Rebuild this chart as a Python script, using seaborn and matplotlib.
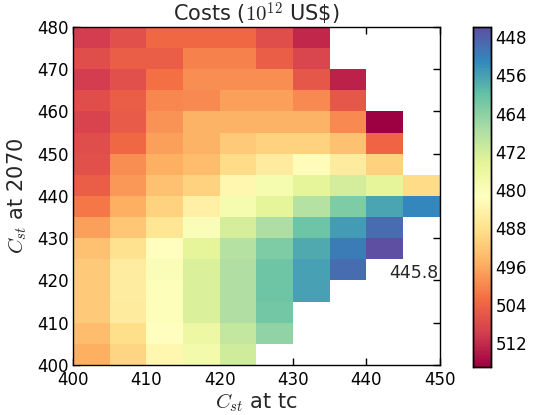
import numpy as np
import pandas as pd
import seaborn as sns
import matplotlib
matplotlib.use("Agg")
import matplotlib.pyplot as plt

# %% data (cost in 10^12 US$)
cst_tc = [400, 405, 410, 415, 420, 425, 430, 435, 440, 445]          # left cell edges
cst_2070 = [475, 470, 465, 460, 455, 450, 445, 440,
            435, 430, 425, 420, 415, 410, 405, 400]                   # bottom cell edges, top row first
nan = np.nan
costs = [
    [510.0, 507.0, 503.5, 503.5, 503.5, 507.5, 512.5, nan, nan, nan],
    [507.5, 505.0, 505.0, 500.5, 500.5, 505.0, 508.5, nan, nan, nan],
    [510.0, 507.0, 502.5, 499.0, 499.0, 499.0, 506.0, 513.0, nan, nan],
    [507.5, 505.0, 500.0, 499.5, 497.0, 497.0, 499.5, 506.0, nan, nan],
    [509.0, 505.5, 498.5, 495.0, 495.0, 495.0, 495.0, 499.5, 517.0, nan],
    [507.5, 503.5, 497.0, 495.0, 491.5, 490.5, 490.5, 493.0, 504.0, nan],
    [507.0, 499.0, 495.5, 493.5, 489.0, 486.0, 482.0, 486.0, 490.5, nan],
    [505.0, 498.0, 493.0, 490.5, 483.5, 478.5, 474.5, 472.0, 474.5, 489.0],
    [501.5, 495.5, 490.5, 485.0, 478.5, 474.5, 468.5, 462.5, 456.5, 453.0],
    [497.0, 492.0, 487.0, 480.0, 472.5, 467.5, 461.0, 455.5, 449.5, nan],
    [493.0, 488.0, 481.5, 474.5, 468.5, 462.5, 457.0, 451.5, 445.8, nan],
    [491.5, 485.5, 480.0, 473.0, 468.0, 461.0, 456.0, 449.5, nan, nan],
    [491.5, 485.5, 480.5, 473.0, 468.0, 461.0, 456.0, nan, nan, nan],
    [491.5, 486.0, 480.5, 473.0, 468.0, 461.5, nan, nan, nan, nan],
    [493.5, 488.5, 481.5, 476.5, 470.0, 464.5, nan, nan, nan, nan],
    [495.5, 490.0, 483.5, 478.0, 471.5, nan, nan, nan, nan, nan],
]
x_ticklabels = ['400', '410', '420', '430', '440', '450']
y_ticklabels = ['480', '470', '460', '450', '440', '430', '420', '410', '400']
cbar_ticks = [448, 456, 464, 472, 480, 488, 496, 504, 512]

df = pd.DataFrame(costs, index=cst_2070, columns=cst_tc)
vmin = np.nanmin(df.values)
vmax = np.nanmax(df.values)

# %% style
sns.set_style("ticks")
plt.rcParams['font.family'] = ['DejaVu Sans']
plt.rcParams['mathtext.fontset'] = 'cm'

fig = plt.figure(figsize=(5.34, 4.15), dpi=100)
ax = fig.add_axes([0.1367, 0.1205, 0.687, 0.8145])
cax = fig.add_axes([0.886, 0.1157, 0.0328, 0.82])

sns.heatmap(df, ax=ax, cbar_ax=cax, cmap='Spectral_r', vmin=vmin, vmax=vmax,
            xticklabels=False, yticklabels=False,
            cbar_kws={'ticks': cbar_ticks})

ax.set_xticks(np.arange(0, len(cst_tc) + 1, 2))
ax.set_xticklabels(x_ticklabels, rotation=0)
ax.set_yticks(np.arange(0, len(cst_2070) + 1, 2))
ax.set_yticklabels(y_ticklabels, rotation=0)
ax.tick_params(top=True, right=True, direction='in', length=5, width=1,
               labelsize=12, colors='black', pad=4)
ax.tick_params(axis='y', pad=3)
for s in ax.spines.values():
    s.set_visible(True)
    s.set_color('black')
    s.set_linewidth(1)

# minimum value label below-right of the min cell
i_min, j_min = np.unravel_index(np.nanargmin(df.values), df.shape)
ax.text(j_min + 1.3, i_min + 1.65, f"{vmin:.1f}", ha='center', va='center', fontsize=12.5)

ax.set_xlabel(r'$C_{st}$ at tc', fontsize=15, labelpad=2)
ax.set_ylabel(r'$C_{st}$ at 2070', fontsize=15, labelpad=6)
ax.set_title(r'Costs ($10^{12}$ US\$)', fontsize=15, pad=4)

cax.invert_yaxis()
cax.tick_params(direction='in', length=5, width=1, labelsize=12, colors='black')
for s in cax.spines.values():
    s.set_visible(True)
    s.set_color('black')
    s.set_linewidth(1)

fig.savefig('out.png', dpi=100)
